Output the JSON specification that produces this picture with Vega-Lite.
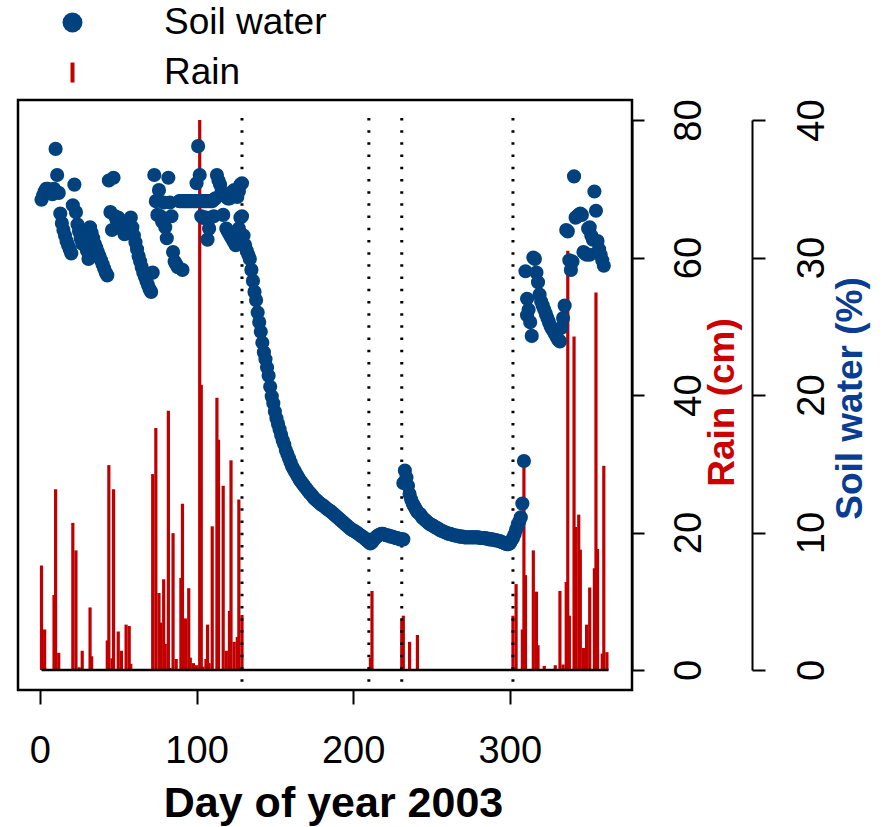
{
  "$schema": "https://vega.github.io/schema/vega-lite/v6.json",
  "width": 614,
  "height": 590,
  "autosize": "none",
  "padding": {"left": 18, "top": 100, "right": 255, "bottom": 137},
  "background": "white",
  "config": {
    "font": "Liberation Sans",
    "view": {"stroke": "black", "strokeWidth": 2.5},
    "axis": {"grid": false, "labelColor": "black", "tickColor": "black", "domainColor": "black"}
  },
  "datasets": {
    "soil": [
      {"day":1,"sw":34.2},{"day":2,"sw":34.5},{"day":3,"sw":34.8},{"day":4,"sw":35.0},{"day":5,"sw":35.0},{"day":6,"sw":34.9},{"day":7,"sw":34.8},{"day":8,"sw":34.6},{"day":9,"sw":35.0},{"day":10,"sw":37.9},
      {"day":11,"sw":36.0},{"day":12,"sw":34.7},{"day":13,"sw":33.2},{"day":14,"sw":32.5},{"day":15,"sw":32.0},{"day":16,"sw":31.6},{"day":17,"sw":31.2},{"day":18,"sw":30.9},{"day":19,"sw":30.6},{"day":20,"sw":30.3},
      {"day":21,"sw":33.8},{"day":22,"sw":35.3},{"day":23,"sw":33.3},{"day":24,"sw":32.4},{"day":25,"sw":31.9},{"day":26,"sw":31.4},{"day":27,"sw":31.0},{"day":28,"sw":31.8},{"day":29,"sw":31.1},{"day":30,"sw":30.5},
      {"day":31,"sw":29.9},{"day":32,"sw":32.2},{"day":33,"sw":31.8},{"day":34,"sw":31.4},{"day":35,"sw":31.0},{"day":36,"sw":30.7},{"day":37,"sw":30.4},{"day":38,"sw":30.1},{"day":39,"sw":29.8},{"day":40,"sw":29.5},
      {"day":41,"sw":29.2},{"day":42,"sw":28.9},{"day":43,"sw":28.7},{"day":44,"sw":35.6},{"day":45,"sw":33.3},{"day":46,"sw":32.0},{"day":47,"sw":35.8},{"day":48,"sw":33.0},{"day":49,"sw":32.7},{"day":50,"sw":32.9},
      {"day":51,"sw":32.5},{"day":52,"sw":32.3},{"day":53,"sw":32.0},{"day":54,"sw":31.7},{"day":55,"sw":32.6},{"day":56,"sw":32.2},{"day":57,"sw":31.8},{"day":58,"sw":32.9},{"day":59,"sw":32.2},{"day":60,"sw":31.6},
      {"day":61,"sw":31.1},{"day":62,"sw":30.6},{"day":63,"sw":30.1},{"day":64,"sw":29.7},{"day":65,"sw":29.3},{"day":66,"sw":28.9},{"day":67,"sw":28.6},{"day":68,"sw":28.3},{"day":69,"sw":28.0},{"day":70,"sw":27.7},
      {"day":71,"sw":27.5},{"day":72,"sw":28.9},{"day":73,"sw":36.0},{"day":74,"sw":34.1},{"day":75,"sw":33.1},{"day":76,"sw":34.9},{"day":77,"sw":33.0},{"day":78,"sw":32.6},{"day":79,"sw":34.0},{"day":80,"sw":32.2},
      {"day":81,"sw":31.4},{"day":82,"sw":35.8},{"day":83,"sw":34.0},{"day":84,"sw":33.0},{"day":85,"sw":30.4},{"day":86,"sw":29.7},{"day":87,"sw":29.5},{"day":88,"sw":29.3},{"day":89,"sw":34.1},{"day":90,"sw":34.1},
      {"day":91,"sw":34.1},{"day":92,"sw":34.1},{"day":93,"sw":34.1},{"day":94,"sw":34.1},{"day":95,"sw":34.1},{"day":96,"sw":34.1},{"day":97,"sw":34.1},{"day":98,"sw":34.1},{"day":99,"sw":34.1},{"day":100,"sw":35.4},
      {"day":101,"sw":38.1},{"day":102,"sw":36.0},{"day":103,"sw":34.1},{"day":104,"sw":34.1},{"day":105,"sw":34.1},{"day":106,"sw":34.1},{"day":107,"sw":34.1},{"day":108,"sw":34.1},{"day":109,"sw":34.1},{"day":110,"sw":34.1},
      {"day":111,"sw":34.2},{"day":112,"sw":34.3},{"day":113,"sw":36.0},{"day":114,"sw":35.6},{"day":115,"sw":35.3},{"day":116,"sw":34.8},{"day":117,"sw":34.6},{"day":118,"sw":34.5},{"day":119,"sw":34.4},{"day":120,"sw":34.3},
      {"day":121,"sw":34.3},{"day":122,"sw":34.6},{"day":123,"sw":34.8},{"day":124,"sw":34.9},{"day":125,"sw":34.5},{"day":126,"sw":34.4},{"day":127,"sw":34.8},{"day":128,"sw":35.3},{"day":129,"sw":35.4},{"day":130,"sw":31.6},
      {"day":91,"sw":29.1},{"day":100,"sw":34.1},{"day":102,"sw":34.1},{"day":103,"sw":33.0},{"day":104,"sw":32.9},{"day":105,"sw":32.9},{"day":106,"sw":32.9},{"day":107,"sw":31.3},{"day":108,"sw":32.1},{"day":109,"sw":32.9},{"day":111,"sw":33.0},
      {"day":117,"sw":33.1},{"day":119,"sw":32.1},{"day":120,"sw":31.9},{"day":121,"sw":31.7},{"day":122,"sw":31.5},{"day":123,"sw":31.3},{"day":124,"sw":31.1},{"day":125,"sw":30.9},{"day":127,"sw":32.1},{"day":128,"sw":32.9},{"day":129,"sw":33.0},
      {"day":131,"sw":30.9},{"day":132,"sw":30.5},{"day":133,"sw":30.2},{"day":134,"sw":29.9},{"day":135,"sw":29.1},{"day":136,"sw":28.3},{"day":137,"sw":27.5},{"day":138,"sw":26.9},{"day":139,"sw":26.0},{"day":140,"sw":25.3},
      {"day":141,"sw":24.6},{"day":142,"sw":23.8},{"day":143,"sw":23.1},{"day":144,"sw":22.6},{"day":145,"sw":22.0},{"day":146,"sw":21.4},{"day":147,"sw":20.6},{"day":148,"sw":19.9},{"day":149,"sw":19.4},{"day":150,"sw":18.8},
      {"day":151,"sw":18.3},{"day":152,"sw":17.9},{"day":153,"sw":17.5},{"day":154,"sw":17.1},{"day":155,"sw":16.7},{"day":156,"sw":16.4},{"day":157,"sw":16.0},{"day":158,"sw":15.7},{"day":159,"sw":15.4},{"day":160,"sw":15.1},
      {"day":161,"sw":14.8},{"day":162,"sw":14.6},{"day":163,"sw":14.4},{"day":164,"sw":14.2},{"day":165,"sw":14.0},{"day":166,"sw":13.8},{"day":167,"sw":13.65},{"day":168,"sw":13.5},{"day":169,"sw":13.35},{"day":170,"sw":13.2},
      {"day":171,"sw":13.05},{"day":172,"sw":12.9},{"day":173,"sw":12.8},{"day":174,"sw":12.65},{"day":175,"sw":12.5},{"day":176,"sw":12.4},{"day":177,"sw":12.3},{"day":178,"sw":12.2},{"day":179,"sw":12.1},{"day":180,"sw":12.0},
      {"day":181,"sw":11.95},{"day":182,"sw":11.85},{"day":183,"sw":11.75},{"day":184,"sw":11.65},{"day":185,"sw":11.6},{"day":186,"sw":11.5},{"day":187,"sw":11.4},{"day":188,"sw":11.3},{"day":189,"sw":11.2},{"day":190,"sw":11.1},
      {"day":191,"sw":11.0},{"day":192,"sw":10.9},{"day":193,"sw":10.8},{"day":194,"sw":10.7},{"day":195,"sw":10.6},{"day":196,"sw":10.5},{"day":197,"sw":10.4},{"day":198,"sw":10.3},{"day":199,"sw":10.2},{"day":200,"sw":10.15},
      {"day":201,"sw":10.1},{"day":202,"sw":10.0},{"day":203,"sw":9.95},{"day":204,"sw":9.85},{"day":205,"sw":9.75},{"day":206,"sw":9.7},{"day":207,"sw":9.6},{"day":208,"sw":9.5},{"day":209,"sw":9.4},{"day":210,"sw":9.3},
      {"day":211,"sw":9.2},{"day":212,"sw":9.3},{"day":213,"sw":9.45},{"day":214,"sw":9.6},{"day":215,"sw":9.7},{"day":216,"sw":9.8},{"day":217,"sw":9.85},{"day":218,"sw":9.9},{"day":219,"sw":9.9},{"day":220,"sw":9.85},
      {"day":221,"sw":9.8},{"day":222,"sw":9.8},{"day":223,"sw":9.75},{"day":224,"sw":9.7},{"day":225,"sw":9.7},{"day":226,"sw":9.65},{"day":227,"sw":9.6},{"day":228,"sw":9.6},{"day":229,"sw":9.55},{"day":230,"sw":9.5},
      {"day":231,"sw":9.5},{"day":232,"sw":9.5},{"day":232,"sw":13.6},{"day":233,"sw":14.5},{"day":234,"sw":14.0},{"day":235,"sw":13.4},{"day":236,"sw":12.8},{"day":237,"sw":12.4},{"day":238,"sw":12.1},{"day":239,"sw":11.9},{"day":240,"sw":11.7},
      {"day":241,"sw":11.5},{"day":242,"sw":11.4},{"day":243,"sw":11.3},{"day":244,"sw":11.1},{"day":245,"sw":11.0},{"day":246,"sw":10.9},{"day":247,"sw":10.8},{"day":248,"sw":10.7},{"day":249,"sw":10.6},{"day":250,"sw":10.55},
      {"day":251,"sw":10.5},{"day":252,"sw":10.4},{"day":253,"sw":10.35},{"day":254,"sw":10.3},{"day":255,"sw":10.2},{"day":256,"sw":10.15},{"day":257,"sw":10.1},{"day":258,"sw":10.05},{"day":259,"sw":10.0},{"day":260,"sw":9.95},
      {"day":261,"sw":9.9},{"day":262,"sw":9.9},{"day":263,"sw":9.85},{"day":264,"sw":9.8},{"day":265,"sw":9.8},{"day":266,"sw":9.75},{"day":267,"sw":9.75},{"day":268,"sw":9.7},{"day":269,"sw":9.7},{"day":270,"sw":9.7},
      {"day":271,"sw":9.65},{"day":272,"sw":9.65},{"day":273,"sw":9.65},{"day":274,"sw":9.65},{"day":275,"sw":9.65},{"day":276,"sw":9.65},{"day":277,"sw":9.65},{"day":278,"sw":9.65},{"day":279,"sw":9.65},{"day":280,"sw":9.65},
      {"day":281,"sw":9.6},{"day":282,"sw":9.6},{"day":283,"sw":9.6},{"day":284,"sw":9.6},{"day":285,"sw":9.55},{"day":286,"sw":9.55},{"day":287,"sw":9.5},{"day":288,"sw":9.5},{"day":289,"sw":9.5},{"day":290,"sw":9.45},
      {"day":291,"sw":9.45},{"day":292,"sw":9.4},{"day":293,"sw":9.4},{"day":294,"sw":9.35},{"day":295,"sw":9.3},{"day":296,"sw":9.25},{"day":297,"sw":9.2},{"day":298,"sw":9.15},{"day":299,"sw":9.15},{"day":300,"sw":9.2},
      {"day":301,"sw":9.4},{"day":302,"sw":9.6},{"day":303,"sw":9.85},{"day":304,"sw":10.2},{"day":305,"sw":10.5},{"day":306,"sw":10.8},{"day":307,"sw":11.1},{"day":308,"sw":12.1},{"day":309,"sw":15.2},{"day":310,"sw":29.0},
      {"day":311,"sw":27.0},{"day":311,"sw":25.8},{"day":312,"sw":26.2},{"day":313,"sw":25.3},{"day":314,"sw":24.3},{"day":315,"sw":30.0},{"day":316,"sw":29.9},{"day":317,"sw":28.9},{"day":318,"sw":28.2},{"day":319,"sw":27.3},{"day":320,"sw":26.8},
      {"day":321,"sw":26.5},{"day":322,"sw":26.2},{"day":323,"sw":25.9},{"day":324,"sw":25.6},{"day":325,"sw":25.3},{"day":326,"sw":25.0},{"day":327,"sw":24.8},{"day":328,"sw":24.6},{"day":329,"sw":24.4},{"day":330,"sw":24.2},
      {"day":331,"sw":24.0},{"day":332,"sw":23.9},{"day":333,"sw":24.9},{"day":334,"sw":25.6},{"day":335,"sw":26.5},{"day":336,"sw":32.0},{"day":337,"sw":31.9},{"day":338,"sw":29.8},{"day":339,"sw":29.1},{"day":340,"sw":29.7},
      {"day":341,"sw":35.9},{"day":342,"sw":32.9},{"day":343,"sw":33.0},{"day":344,"sw":33.1},{"day":345,"sw":33.2},{"day":346,"sw":33.1},{"day":347,"sw":30.4},{"day":348,"sw":30.3},{"day":349,"sw":30.2},{"day":350,"sw":32.1},
      {"day":351,"sw":32.2},{"day":351,"sw":30.2},{"day":352,"sw":31.6},{"day":353,"sw":31.3},{"day":354,"sw":34.8},{"day":355,"sw":33.4},{"day":356,"sw":31.2},{"day":357,"sw":30.6},{"day":358,"sw":30.2},{"day":359,"sw":29.8},{"day":360,"sw":29.4}
    ],
    "rain": [
      {"day":1,"rain":15.2},{"day":3,"rain":5.9},{"day":9,"rain":10.9},{"day":10,"rain":26.3},{"day":12,"rain":2.5},{"day":21,"rain":21.4},{"day":23,"rain":17.4},{"day":25,"rain":0.4},{"day":27,"rain":2.8},{"day":32,"rain":9.1},
      {"day":33,"rain":2.0},{"day":43,"rain":4.3},{"day":44,"rain":29.8},{"day":46,"rain":1.7},{"day":47,"rain":26.3},{"day":50,"rain":5.6},{"day":52,"rain":2.8},{"day":55,"rain":6.6},{"day":57,"rain":6.4},{"day":58,"rain":0.9},
      {"day":72,"rain":28.5},{"day":74,"rain":35.2},{"day":76,"rain":11.2},{"day":77,"rain":6.9},{"day":79,"rain":13.2},{"day":80,"rain":3.8},{"day":82,"rain":37.7},{"day":83,"rain":0.3},{"day":85,"rain":19.9},{"day":87,"rain":1.6},
      {"day":90,"rain":13.4},{"day":91,"rain":24.2},{"day":93,"rain":7.5},{"day":95,"rain":11.9},{"day":96,"rain":1.8},{"day":98,"rain":1.0},{"day":100,"rain":0.7},{"day":102,"rain":80.0},{"day":103,"rain":41.5},{"day":104,"rain":0.5},
      {"day":106,"rain":1.6},{"day":107,"rain":6.6},{"day":108,"rain":1.0},{"day":110,"rain":20.9},{"day":113,"rain":39.6},{"day":114,"rain":33.5},{"day":117,"rain":26.8},{"day":119,"rain":2.8},{"day":121,"rain":8.6},{"day":122,"rain":30.5},
      {"day":124,"rain":4.1},{"day":126,"rain":4.8},{"day":127,"rain":24.8},{"day":129,"rain":8.0},{"day":211,"rain":1.8},{"day":212,"rain":11.5},{"day":231,"rain":7.3},{"day":232,"rain":7.9},{"day":236,"rain":4.1},{"day":241,"rain":5.1},
      {"day":302,"rain":7.9},{"day":304,"rain":12.5},{"day":308,"rain":5.9},{"day":309,"rain":30.4},{"day":310,"rain":13.8},{"day":315,"rain":17.4},{"day":317,"rain":11.4},{"day":318,"rain":3.6},{"day":322,"rain":0.6},{"day":329,"rain":0.7},
      {"day":332,"rain":11.5},{"day":334,"rain":0.8},{"day":336,"rain":12.8},{"day":337,"rain":61.0},{"day":338,"rain":7.9},{"day":341,"rain":48.5},{"day":342,"rain":20.8},{"day":344,"rain":22.6},{"day":345,"rain":17.5},{"day":347,"rain":3.2},
      {"day":348,"rain":2.5},{"day":349,"rain":6.6},{"day":351,"rain":12.0},{"day":354,"rain":14.8},{"day":355,"rain":54.9},{"day":356,"rain":17.6},{"day":359,"rain":2.4},{"day":360,"rain":29.7},{"day":362,"rain":2.6}
    ],
    "markers": [{"day":129},{"day":210},{"day":231},{"day":302}]
  },
  "layer": [
    {
      "layer": [
        {
          "data": {"name": "rain"},
          "mark": {"type": "rule", "color": "#C00000", "strokeWidth": 3.2, "strokeCap": "butt"},
          "encoding": {
            "x": {
              "field": "day", "type": "quantitative",
              "scale": {"domain": [-14, 378], "nice": false, "zero": false},
              "axis": {
                "values": [0, 100, 200, 300], "domain": false, "tickSize": 14, "tickWidth": 2,
                "labelFontSize": 38, "labelBaseline": "alphabetic", "labelPadding": 58, "labelFlush": false,
                "title": "Day of year 2003", "titleFontSize": 43, "titleFontWeight": "bold", "titleColor": "black",
                "titleBaseline": "alphabetic", "titleAlign": "center", "titleX": 315, "titleY": 126
              }
            },
            "y": {
              "field": "rain", "type": "quantitative",
              "scale": {"domain": [0, 80], "range": [570, 20], "nice": false, "zero": false},
              "axis": {
                "orient": "right", "values": [0, 20, 40, 60, 80], "domain": true, "domainWidth": 2,
                "tickSize": 12, "tickWidth": 2, "labelAngle": -90, "labelAlign": "center",
                "labelBaseline": "alphabetic", "labelPadding": 56, "labelFontSize": 38,
                "title": "Rain (cm)", "titleColor": "#CC0000", "titleFontSize": 37, "titleFontWeight": "bold",
                "titleAngle": -90, "titleAlign": "center", "titleBaseline": "alphabetic", "titleX": 101, "titleY": 302
              }
            },
            "y2": {"datum": 0}
          }
        },
        {
          "data": {"values": [{}]},
          "mark": {"type": "rule", "color": "black", "strokeWidth": 2.5},
          "encoding": {
            "x": {"datum": 1, "type": "quantitative", "scale": {"domain": [-14, 378], "nice": false, "zero": false}},
            "x2": {"datum": 363},
            "y": {"datum": 0, "type": "quantitative", "scale": {"domain": [0, 80], "range": [570, 20], "nice": false, "zero": false}}
          }
        },
        {
          "data": {"name": "markers"},
          "mark": {"type": "rule", "color": "black", "strokeWidth": 3, "strokeDash": [2.5, 9.7], "strokeCap": "butt"},
          "encoding": {
            "x": {"field": "day", "type": "quantitative", "scale": {"domain": [-14, 378], "nice": false, "zero": false}},
            "y": {"datum": 80.3, "type": "quantitative", "scale": {"domain": [0, 80], "range": [570, 20], "nice": false, "zero": false}},
            "y2": {"datum": -2.9}
          }
        }
      ]
    },
    {
      "data": {"name": "soil"},
      "mark": {"type": "point", "filled": true, "size": 200, "opacity": 1},
      "encoding": {
        "x": {"field": "day", "type": "quantitative", "scale": {"domain": [-14, 378], "nice": false, "zero": false}},
        "y": {
          "field": "sw", "type": "quantitative",
          "scale": {"domain": [0, 40], "range": [570, 20], "nice": false, "zero": false},
          "axis": {
            "orient": "right", "offset": 120, "values": [0, 10, 20, 30, 40], "domain": true, "domainWidth": 2,
            "tickSize": 13, "tickWidth": 2, "labelAngle": -90, "labelAlign": "center",
            "labelBaseline": "alphabetic", "labelPadding": 58, "labelFontSize": 38,
            "title": "Soil water (%)", "titleColor": "#0A3C92", "titleFontSize": 37, "titleFontWeight": "bold",
            "titleAngle": -90, "titleAlign": "center", "titleBaseline": "alphabetic", "titleX": 109, "titleY": 298
          }
        },
        "color": {
          "datum": "Soil water",
          "scale": {"domain": ["Soil water", "Rain"], "range": ["#01417E", "#C00000"]},
          "legend": {
            "orient": "none", "legendX": 36, "legendY": -96, "title": null, "padding": 0,
            "labelFontSize": 37, "labelColor": "black", "labelOffset": 73, "labelLimit": 400, "symbolSize": 400,
            "rowPadding": 12, "symbolStrokeWidth": 0, "symbolOpacity": 1,
            "labelExpr": "datum.label == 'Rain' ? '\u00a0Rain' : datum.label",
            "encode": {"symbols": {"update": {"shape": {"signal": "datum.value == 'Rain' ? 'M-0.2,-1H0.2V1H-0.2Z' : 'circle'"}}}}
          }
        }
      }
    }
  ],
  "resolve": {"scale": {"y": "independent"}, "axis": {"y": "independent"}}
}
